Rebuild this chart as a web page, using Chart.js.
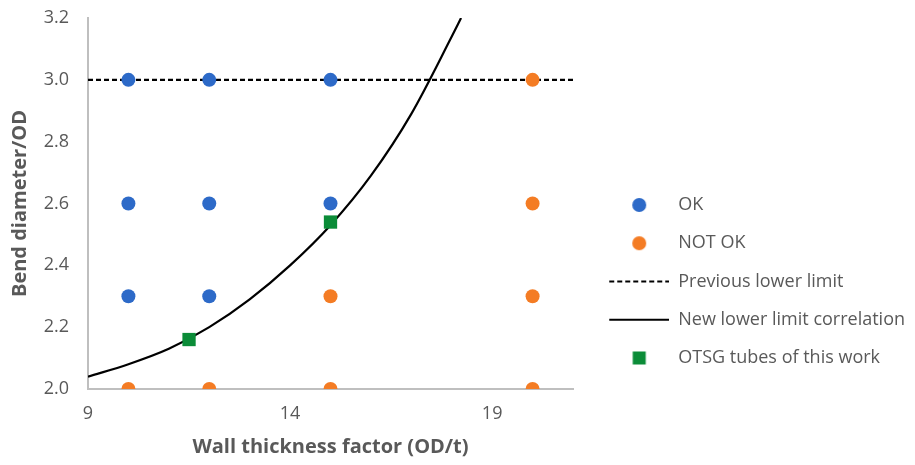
<!DOCTYPE html>
<html>
<head>
<meta charset="utf-8">
<script src="https://cdn.jsdelivr.net/npm/chart.js@4"></script>
<style>
  html, body { margin: 0; padding: 0; background: #fff; }
  #wrap { width: 915px; height: 465px; }
</style>
</head>
<body>
<div id="wrap"><canvas id="bend-chart"></canvas></div>
<script>
// data
const okX = [10, 12, 15, 10, 12, 15, 10, 12];
const okY = [3.0, 3.0, 3.0, 2.6, 2.6, 2.6, 2.3, 2.3];
const notOkX = [20, 20, 15, 20, 10, 12, 15, 20];
const notOkY = [3.0, 2.6, 2.3, 2.3, 2.0, 2.0, 2.0, 2.0];
const prevLimitX = [9, 21];
const prevLimitY = [3.0, 3.0];
const newLimitX = [9, 10, 11, 12, 13, 14, 15, 16, 17, 18, 18.23];
const newLimitY = [2.04, 2.08, 2.13, 2.20, 2.29, 2.40, 2.53, 2.69, 2.89, 3.14, 3.2];
const otsgX = [11.5, 15];
const otsgY = [2.16, 2.54];
const xTicks = [9, 14, 19];
const yTicks = [2.0, 2.2, 2.4, 2.6, 2.8, 3.0, 3.2];

const BLUE = "#2D6AC8";
const ORANGE = "#F47C24";
const GREEN = "#0B8C38";
const GREY = "#595959";
const FONT = "'Open Sans', 'Noto Sans', sans-serif";
const LEGEND_WIDTH = 342;

function pts(xs, ys) {
  return xs.map((x, i) => ({x: x, y: ys[i]}));
}

// legend keys: 76px pictures, the key itself sits in the right 60px
function swatch(draw) {
  const c = document.createElement("canvas");
  c.width = 76;
  c.height = 16;
  const ctx = c.getContext("2d");
  ctx.translate(16, 0);
  draw(ctx);
  return c;
}
const keyDot = color => swatch(ctx => {
  ctx.fillStyle = color;
  ctx.beginPath();
  ctx.arc(30, 8, 7, 0, Math.PI * 2);
  ctx.fill();
});
const keyLine = dash => swatch(ctx => {
  ctx.strokeStyle = "#000";
  ctx.lineWidth = 2.2;
  ctx.setLineDash(dash);
  ctx.beginPath();
  ctx.moveTo(0, 8);
  ctx.lineTo(60, 8);
  ctx.stroke();
});
const keySquare = color => swatch(ctx => {
  ctx.fillStyle = color;
  ctx.fillRect(23.5, 1.5, 13, 13);
});
const legendKeys = [keyDot(BLUE), keyDot(ORANGE), keyLine([5, 3]), keyLine([]), keySquare(GREEN)];

// chart.js caps a side legend at a quarter of the width, the reference one is wider
const legendBox = {
  id: "legendBox",
  beforeLayout(chart) {
    const legend = chart.legend;
    if (legend && !legend.widthPatched) {
      const fit = legend.fit;
      legend.fit = function () {
        fit.call(this);
        this.width = LEGEND_WIDTH;
      };
      legend.widthPatched = true;
    }
  }
};

new Chart(document.getElementById("bend-chart"), {
  type: "scatter",
  data: {
    datasets: [{
        label: "OK",
        data: pts(okX, okY),
        backgroundColor: BLUE,
        borderWidth: 0,
        pointRadius: 7,
        pointHoverRadius: 7
      }, {
        label: "NOT OK",
        data: pts(notOkX, notOkY),
        backgroundColor: ORANGE,
        borderWidth: 0,
        pointRadius: 7,
        pointHoverRadius: 7
      }, {
        label: "Previous lower limit",
        data: pts(prevLimitX, prevLimitY),
        showLine: true,
        borderColor: "#000",
        borderWidth: 2.2,
        borderDash: [5, 3],
        pointRadius: 0,
        fill: false
      }, {
        label: "New lower limit correlation",
        data: pts(newLimitX, newLimitY),
        showLine: true,
        cubicInterpolationMode: "monotone",
        borderColor: "#000",
        borderWidth: 2.2,
        pointRadius: 0,
        fill: false
      }, {
        label: "OTSG tubes of this work",
        data: pts(otsgX, otsgY),
        pointStyle: "rect",
        backgroundColor: GREEN,
        borderWidth: 0,
        pointRadius: 9.4,
        pointHoverRadius: 9.4,
        order: -1
      }
    ]
  },
  plugins: [legendBox],
  options: {
    maintainAspectRatio: false,
    animation: false,
    layout: {padding: {top: 18, left: 0, right: 0, bottom: 0}},
    plugins: {
      tooltip: {enabled: false},
      legend: {
        position: "right",
        title: {display: true, text: "", padding: {top: 65.6, bottom: 0}},
        labels: {
          usePointStyle: true,
          pointStyleWidth: 76,
          padding: 20.25,
          color: GREY,
          font: {family: FONT, size: 18},
          sort: (a, b) => a.datasetIndex - b.datasetIndex,
          generateLabels: chart =>
            Chart.defaults.plugins.legend.labels.generateLabels(chart).map(item => {
              item.pointStyle = legendKeys[item.datasetIndex];
              return item;
            })
        }
      }
    },
    scales: {
      x: {
        type: "linear",
        min: 9,
        max: 21,
        afterBuildTicks: axis => { axis.ticks = xTicks.map(v => ({value: v})); },
        afterFit: axis => { axis.height = 76; },
        grid: {display: false, drawTicks: false},
        border: {color: "#BFBFBF", width: 2},
        ticks: {color: GREY, font: {family: FONT, size: 18}, padding: 14},
        title: {
          display: true,
          text: "Wall thickness factor (OD/t)",
          color: GREY,
          font: {family: FONT, size: 20, weight: "bold"},
          padding: {top: 0, bottom: 6}
        }
      },
      y: {
        min: 2,
        max: 3.2,
        afterBuildTicks: axis => { axis.ticks = yTicks.map(v => ({value: v})); },
        afterFit: axis => {
          axis.width = 88;
          axis.paddingTop = 0;
          axis.paddingBottom = 0;
        },
        grid: {display: false, drawTicks: false},
        border: {color: "#BFBFBF", width: 2},
        ticks: {color: GREY, font: {family: FONT, size: 18}, padding: 19,
          callback: v => v.toFixed(1)},
        title: {
          display: true,
          text: "Bend diameter/OD",
          color: GREY,
          font: {family: FONT, size: 20, weight: "bold"},
          padding: {top: 8, bottom: 0}
        }
      }
    }
  }
});
</script>
</body>
</html>
